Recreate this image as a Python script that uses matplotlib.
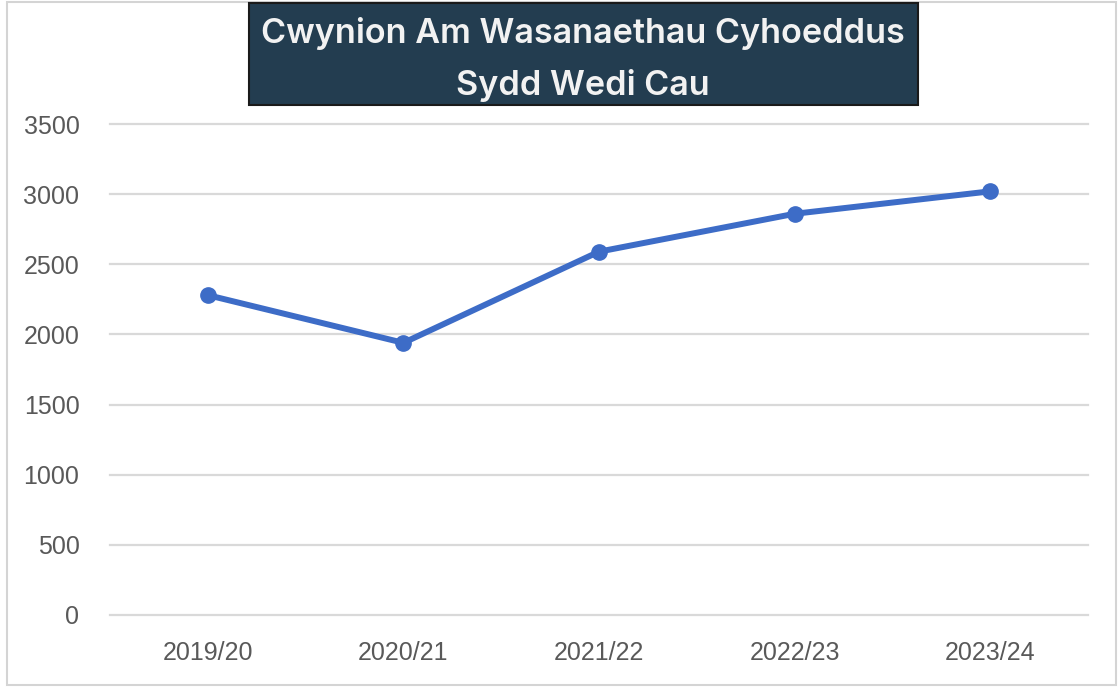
import matplotlib.pyplot as plt
from matplotlib.patches import Rectangle

years = ["2019/20", "2020/21", "2021/22", "2022/23", "2023/24"]
complaints = [2280, 1940, 2590, 2860, 3020]
y_ticks = [0, 500, 1000, 1500, 2000, 2500, 3000, 3500]
title_lines = ["Cwynion Am Wasanaethau Cyhoeddus", "Sydd Wedi Cau"]

W, H = 1118, 687
fig = plt.figure(figsize=(W / 100, H / 100), dpi=100)

# outer frame
fig.patches.append(Rectangle((7 / W, 2 / H), 1 - 9 / W, 1 - 4 / H,
                             transform=fig.transFigure, fill=False,
                             edgecolor="#d4d4d4", linewidth=1.5))

ax = fig.add_axes([110 / W, 1 - 615 / H, 978 / W, 491 / H])
x = list(range(len(years)))
ax.plot(x, complaints, color="#3d6cc7", linewidth=4.3,
        marker="o", markersize=11, solid_capstyle="round", zorder=3)

ax.set_xlim(-0.5, len(years) - 0.5)
ax.set_ylim(0, 3500)
ax.set_xticks(x)
ax.set_xticklabels(years)
ax.set_yticks(y_ticks)
ax.grid(axis="y", color="#d9d9d9", linewidth=1.6, clip_on=False)
ax.set_axisbelow(True)
for s in ax.spines.values():
    s.set_visible(False)
ax.tick_params(axis="both", length=0, labelsize=18, labelcolor="#595959")
ax.tick_params(axis="y", pad=22)
ax.tick_params(axis="x", pad=19)
for lab in ax.get_xticklabels() + ax.get_yticklabels():
    lab.set_fontfamily("Liberation Sans")

# title box
fig.patches.append(Rectangle((249 / W, 1 - 105 / H), 669 / W, 102 / H,
                             transform=fig.transFigure, facecolor="#233d50",
                             edgecolor="#1a1a1a", linewidth=1.5, zorder=5))
for i, line in enumerate(title_lines):
    fig.text(583 / W, 1 - (33 + 53 * i) / H, line, ha="center", va="center",
             color="#f2f2f2", fontsize=24.6, fontfamily="Inter",
             fontweight="semibold", zorder=6)

fig.savefig("out.png", dpi=100)
